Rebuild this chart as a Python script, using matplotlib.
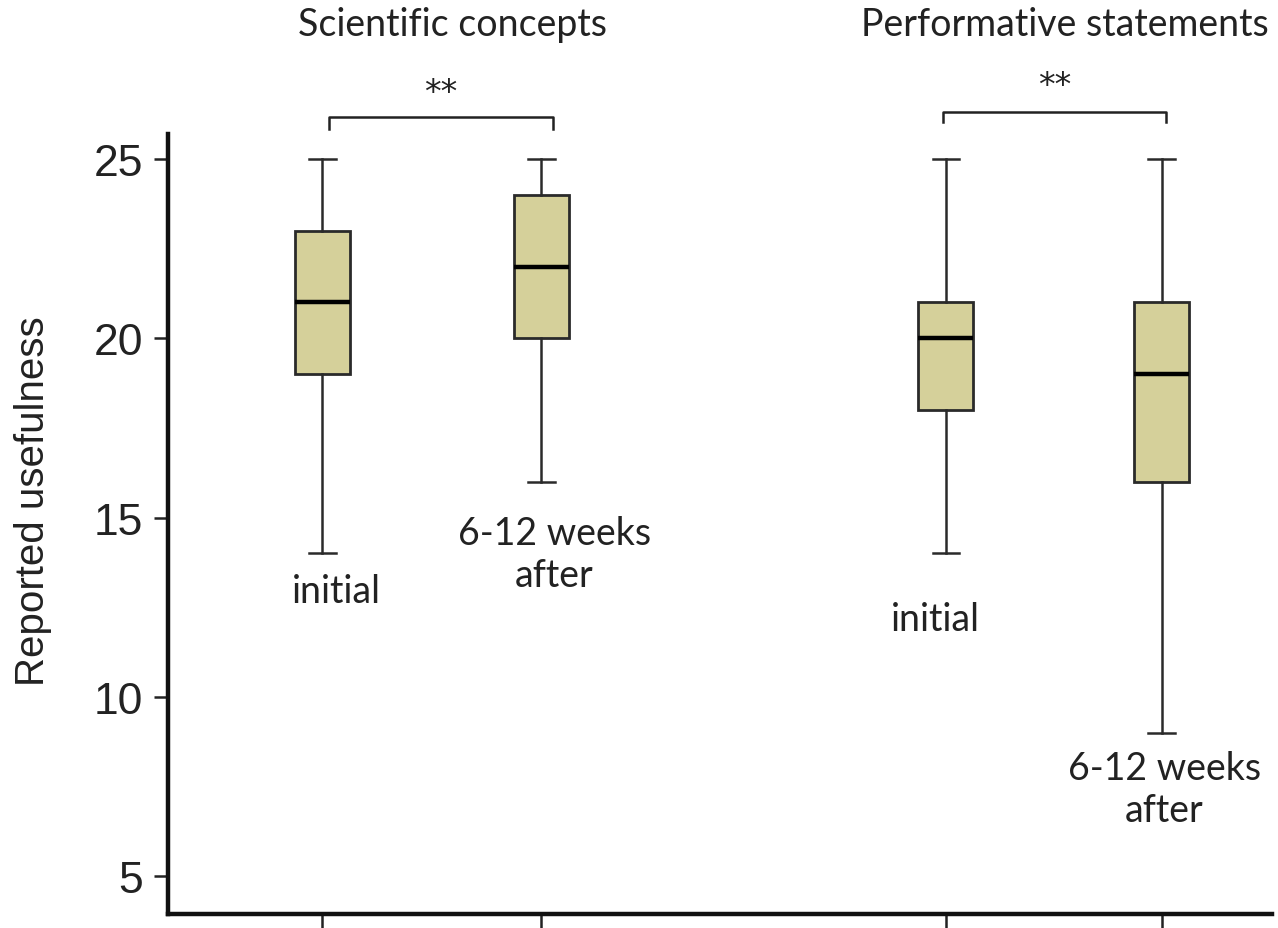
import matplotlib.pyplot as plt

# five-number summaries
groups = ['Scientific concepts', 'Performative statements']
labels = ['initial', '6-12 weeks\nafter', 'initial', '6-12 weeks\nafter']
whislo = [14, 16, 14, 9]
q1 = [19, 20, 18, 16]
med = [21, 22, 20, 19]
q3 = [23, 24, 21, 21]
whishi = [25, 25, 25, 25]
sig = ['**', '**']

pos = [1, 2.007, 3.869, 4.862]
box_color = '#d5d09a'
edge = '#2a2a2a'

stats = []
for i in range(4):
    stats.append(dict(med=med[i], q1=q1[i], q3=q3[i], whislo=whislo[i], whishi=whishi[i], fliers=[]))

fig = plt.figure(figsize=[12.78, 9.29], dpi=100)
ax = fig.add_axes([0.1315, 0.0151, 0.8638, 0.8396])

ax.bxp(stats, positions=pos, widths=0.253, capwidths=0.124, patch_artist=True, showfliers=False,
       boxprops=dict(facecolor=box_color, edgecolor=edge, lw=2.0),
       whiskerprops=dict(color=edge, lw=1.8),
       capprops=dict(color=edge, lw=1.8),
       medianprops=dict(color='k', lw=3.2))

ax.set_xlim(0.292, 5.368)
ax.set_ylim(3.94, 25.70)
ax.set_yticks([5, 10, 15, 20, 25])
ax.set_xticks(pos)
ax.set_xticklabels([])
ax.tick_params(axis='y', labelsize=32, length=10, width=1.8, pad=8, colors='#222222')
ax.tick_params(axis='x', length=11, width=1.8, colors='#222222')
for t in ax.get_yticklabels():
    t.set_family('Liberation Sans')
    t.set_color('#222222')

for s in ['top', 'right']:
    ax.spines[s].set_visible(False)
ax.spines['left'].set_linewidth(3.2)
ax.spines['bottom'].set_linewidth(3.2)
ax.spines['left'].set_color('#111111')
ax.spines['bottom'].set_color('#111111')

ax.set_ylabel('Reported usefulness', fontsize=29, family='Liberation Sans', color='#222222')
ax.yaxis.set_label_coords(-0.105, 0.531)

cal = 'Lato'
# condition labels
lab_xy = [(1.064, 12.95), (2.067, 13.98), (3.818, 12.17), (4.874, 7.43)]
for (x, y), lab in zip(lab_xy, labels):
    ax.text(x, y, lab, ha='center', va='center', fontsize=27, family=cal, color='#222222', linespacing=1.2)

# group titles, brackets and stars
title_x = [1.60, 4.416]
br = [(1.03, 2.06, 26.17, 25.84), (3.855, 4.88, 26.31, 26.03)]
star_y = [26.85, 27.05]
for g, tx, (x0, x1, yt, yb), st, sy in zip(groups, title_x, br, sig, star_y):
    ax.text(tx, 28.77, g, ha='center', va='center', fontsize=27, family=cal, color='#222222', clip_on=False)
    ax.plot([x0, x0, x1, x1], [yb, yt, yt, yb], color='#222222', lw=1.8, clip_on=False)
    ax.text((x0 + x1) / 2, sy, st, ha='center', va='center', fontsize=24, family='DejaVu Sans',
            color='#222222', clip_on=False)

plt.savefig('out.png', dpi=100)
plt.close()
